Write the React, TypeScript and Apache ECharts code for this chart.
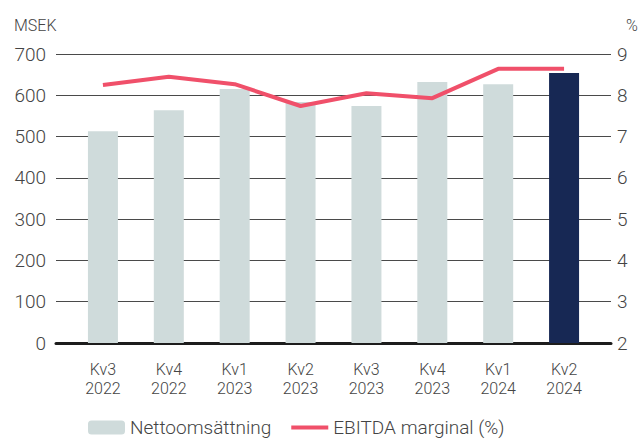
import React, { useEffect, useRef } from "react";
import * as echarts from "echarts";

const quarters = ["Kv3", "Kv4", "Kv1", "Kv2", "Kv3", "Kv4", "Kv1", "Kv2"];
const years = ["2022", "2022", "2023", "2023", "2023", "2023", "2024", "2024"];
const netSales = [513, 564, 615, 584, 574, 632, 627, 654];
const ebitdaMargin = [8.25, 8.45, 8.27, 7.74, 8.05, 7.93, 8.64, 8.64];
const highlightIndex = 7;
const leftTicks = { min: 0, max: 700, interval: 100 };
const rightTicks = { min: 2, max: 9, interval: 1 };

const FONT = "Roboto";
const TEXT = "#444";

export default function App() {
  const ref = useRef<HTMLDivElement>(null);
  useEffect(() => {
    if (!ref.current) return;
    const chart = echarts.init(ref.current, null, { renderer: "svg" });
    const categories = quarters.map((q, i) => q + "\n" + years[i]);
    const gridBox = { top: 54, bottom: 97 };
    chart.setOption({
      animation: false,
      textStyle: { fontFamily: FONT },
      grid: [
        { left: 56, right: 29, ...gridBox },
        { left: 70, right: 43, ...gridBox },
      ],
      graphic: [
        {
          type: "text",
          left: 14,
          top: 17,
          style: { text: "MSEK", fontSize: 16, fill: TEXT, fontFamily: FONT, fontWeight: 300 },
        },
        {
          type: "text",
          left: 626,
          top: 17,
          style: { text: "%", fontSize: 16, fill: TEXT, fontFamily: FONT, fontWeight: 300 },
        },
      ],
      legend: {
        left: 83,
        top: 413,
        itemWidth: 37,
        itemHeight: 14,
        itemGap: 18,
        textStyle: { fontSize: 19, color: TEXT, fontFamily: FONT, fontWeight: 300 },
        data: [
          { name: "Nettoomsättning" },
          { name: "EBITDA marginal (%)", itemStyle: { opacity: 0 }, lineStyle: { width: 4 } },
        ],
      },
      xAxis: [
        {
          gridIndex: 0,
          type: "value",
          min: 0,
          max: 1,
          axisLine: { show: true, onZero: false, lineStyle: { color: "#1d1d1d", width: 3 } },
          axisTick: { show: false },
          axisLabel: { show: false },
          splitLine: { show: false },
        },
        {
          gridIndex: 1,
          type: "category",
          data: categories,
          axisLine: { show: false },
          axisTick: { show: false },
          axisLabel: {
            color: TEXT,
            fontSize: 16,
            lineHeight: 19,
            margin: 17,
            fontFamily: FONT,
            fontWeight: 300,
          },
        },
      ],
      yAxis: [
        {
          gridIndex: 0,
          type: "value",
          position: "left",
          ...leftTicks,
          axisLine: { show: false },
          axisTick: { show: false },
          axisLabel: { color: TEXT, fontSize: 19, margin: 10, fontFamily: FONT, fontWeight: 300 },
          splitLine: { show: true, lineStyle: { color: "#4a4a4a", width: 1 } },
        },
        {
          gridIndex: 0,
          type: "value",
          position: "right",
          ...rightTicks,
          axisLine: { show: false },
          axisTick: { show: false },
          axisLabel: { color: TEXT, fontSize: 19, margin: 6, fontFamily: FONT, fontWeight: 300 },
          splitLine: { show: false },
        },
        {
          gridIndex: 1,
          type: "value",
          ...leftTicks,
          show: false,
          splitLine: { show: false },
        },
        {
          gridIndex: 1,
          type: "value",
          position: "right",
          ...rightTicks,
          show: false,
          splitLine: { show: false },
        },
      ],
      series: [
        {
          name: "Nettoomsättning",
          type: "bar",
          xAxisIndex: 1,
          yAxisIndex: 2,
          barWidth: 30,
          itemStyle: { color: "#cfdbdb" },
          data: netSales.map((v, i) =>
            i === highlightIndex ? { value: v, itemStyle: { color: "#172854" } } : v
          ),
          z: 3,
        },
        {
          name: "EBITDA marginal (%)",
          type: "line",
          xAxisIndex: 1,
          yAxisIndex: 3,
          symbol: "none",
          lineStyle: { color: "#f0506a", width: 4 },
          itemStyle: { color: "#f0506a" },
          data: ebitdaMargin,
          z: 4,
        },
      ],
    });
    return () => chart.dispose();
  }, []);
  return <div ref={ref} style={{ width: 640, height: 440, position: "absolute", left: 0, top: 0 }} />;
}
